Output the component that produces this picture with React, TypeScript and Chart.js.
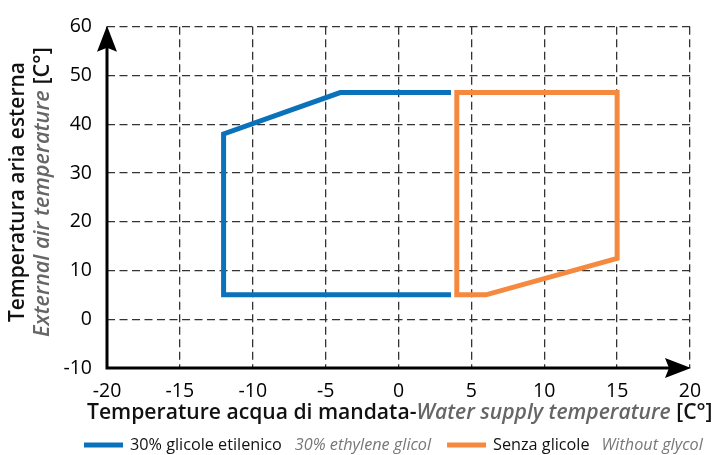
import React, { useEffect, useRef } from "react";
import { Chart, registerables } from "chart.js";
Chart.register(...registerables);

// ---- data ----
const xTickValues = [-20, -15, -10, -5, 0, 5, 10, 15, 20];
const yTickValues = [-10, 0, 10, 20, 30, 40, 50, 60];

const glycolX = [3.6, -4, -12, -12, 3.6];
const glycolY = [46.5, 46.5, 38, 5, 5];

const noGlycolX = [4, 15, 15, 6, 4, 4, 15];
const noGlycolY = [46.5, 46.5, 12.5, 5, 5, 46.5, 46.5];

const seriesNamesIt = ["30% glicole etilenico", "Senza glicole"];
const seriesNamesEn = ["30% ethylene glicol", "Without glycol"];
const seriesColors = ["#0a72ba", "#f5893f"];

const xTitleParts = ["Temperature acqua di mandata-", "Water supply temperature", " [C°]"];
const yTitleLine1 = "Temperatura aria esterna";
const yTitleLine2Parts = ["External air temperature", " [C°]"];

const FONT = "'Open Sans', sans-serif";

type Part = { text: string; italic?: boolean; weight?: number; color: string };

function fontOf(p: Part, size: number) {
  return `${p.italic ? "italic " : ""}${p.weight || 400} ${size}px ${FONT}`;
}
function measureParts(ctx: CanvasRenderingContext2D, parts: Part[], size: number) {
  let w = 0;
  for (const p of parts) {
    ctx.font = fontOf(p, size);
    w += ctx.measureText(p.text).width;
  }
  return w;
}
function drawParts(ctx: CanvasRenderingContext2D, parts: Part[], size: number, x: number, y: number) {
  let cx = x;
  ctx.textAlign = "left";
  ctx.textBaseline = "middle";
  for (const p of parts) {
    ctx.font = fontOf(p, size);
    ctx.fillStyle = p.color;
    ctx.fillText(p.text, cx, y);
    cx += ctx.measureText(p.text).width;
  }
  return cx;
}
function fitSize(ctx: CanvasRenderingContext2D, parts: Part[], target: number) {
  const w = measureParts(ctx, parts, 20);
  return (20 * target) / w;
}

const overlayPlugin = {
  id: "overlay",
  afterDraw(chart: any) {
    const ctx: CanvasRenderingContext2D = chart.ctx;
    const { left, right, top, bottom } = chart.chartArea;
    ctx.save();
    // axes
    ctx.strokeStyle = "#000";
    ctx.fillStyle = "#000";
    ctx.lineWidth = 3;
    ctx.beginPath();
    ctx.moveTo(left, bottom);
    ctx.lineTo(left, top + 10);
    ctx.moveTo(left - 1.5, bottom);
    ctx.lineTo(right - 10, bottom);
    ctx.stroke();
    // y arrow
    const tipY = top - 1;
    ctx.beginPath();
    ctx.moveTo(left, tipY);
    ctx.lineTo(left + 10, tipY + 26);
    ctx.lineTo(left, tipY + 22);
    ctx.lineTo(left - 10, tipY + 26);
    ctx.closePath();
    ctx.fill();
    // x arrow
    const tipX = right + 1;
    ctx.beginPath();
    ctx.moveTo(tipX, bottom);
    ctx.lineTo(tipX - 26, bottom - 10);
    ctx.lineTo(tipX - 22, bottom);
    ctx.lineTo(tipX - 26, bottom + 10);
    ctx.closePath();
    ctx.fill();

    // x title
    const xParts: Part[] = [
      { text: xTitleParts[0], weight: 600, color: "#111" },
      { text: xTitleParts[1], weight: 600, italic: true, color: "#666" },
      { text: xTitleParts[2], weight: 600, color: "#111" },
    ];
    const xs = fitSize(ctx, xParts, 626);
    drawParts(ctx, xParts, xs, 87, 413);

    // y title
    ctx.save();
    ctx.translate(18, 192);
    ctx.rotate(-Math.PI / 2);
    const l1: Part[] = [{ text: yTitleLine1, weight: 600, color: "#111" }];
    const s1 = fitSize(ctx, l1, 260);
    drawParts(ctx, l1, s1, -130, 0);
    ctx.restore();
    ctx.save();
    ctx.translate(43, 192);
    ctx.rotate(-Math.PI / 2);
    const l2: Part[] = [
      { text: yTitleLine2Parts[0], weight: 600, italic: true, color: "#666" },
      { text: yTitleLine2Parts[1], weight: 600, color: "#111" },
    ];
    const s2 = fitSize(ctx, l2, 290);
    drawParts(ctx, l2, s2, -145, 0);
    ctx.restore();

    // legend
    const ly = 445;
    const t1: Part[] = [{ text: seriesNamesIt[0], color: "#111" }];
    const ls = fitSize(ctx, t1, 152);
    let x = 84;
    for (let i = 0; i < seriesNamesIt.length; i++) {
      ctx.fillStyle = seriesColors[i];
      ctx.fillRect(x, ly - 2.5, 39, 5);
      x += 39 + 7;
      x = drawParts(ctx, [{ text: seriesNamesIt[i], color: "#111" }], ls, x, ly);
      x += i === 0 ? 13 : 12;
      x = drawParts(ctx, [{ text: seriesNamesEn[i], italic: true, color: "#777" }], ls, x, ly);
      x += 16;
    }
    ctx.restore();
  },
};

export default function App() {
  const ref = useRef<HTMLCanvasElement>(null);
  useEffect(() => {
    if (!ref.current) return;
    const mk = (xs: number[], ys: number[]) => xs.map((v, i) => ({ x: v, y: ys[i] }));
    const chart = new Chart(ref.current, {
      type: "scatter",
      data: {
        datasets: [
          {
            label: seriesNamesIt[0],
            data: mk(glycolX, glycolY),
            showLine: true,
            borderColor: seriesColors[0],
            backgroundColor: seriesColors[0],
            borderWidth: 5,
            pointRadius: 0,
            borderJoinStyle: "miter",
            borderCapStyle: "butt",
            fill: false,
          },
          {
            label: seriesNamesIt[1],
            data: mk(noGlycolX, noGlycolY),
            showLine: true,
            borderColor: seriesColors[1],
            backgroundColor: seriesColors[1],
            borderWidth: 5,
            pointRadius: 0,
            borderJoinStyle: "miter",
            borderCapStyle: "butt",
            fill: false,
          },
        ],
      },
      options: {
        animation: false,
        responsive: false,
        layout: { padding: { left: 0, right: 25, top: 21, bottom: 0 } },
        plugins: { legend: { display: false }, tooltip: { enabled: false } },
        scales: {
          x: {
            type: "linear",
            min: xTickValues[0],
            max: xTickValues[xTickValues.length - 1],
            afterBuildTicks: (s: any) => {
              s.ticks = xTickValues.map((v) => ({ value: v }));
            },
            afterFit: (s: any) => {
              s.height = 87;
            },
            grid: { color: "#333", lineWidth: 1.3, drawTicks: false },
            border: { display: false, dash: [8, 4.5] },
            ticks: { color: "#000", padding: 12, font: { family: FONT, size: 19.5 } },
          },
          y: {
            type: "linear",
            min: yTickValues[0],
            max: yTickValues[yTickValues.length - 1],
            afterBuildTicks: (s: any) => {
              s.ticks = yTickValues.map((v) => ({ value: v }));
            },
            afterFit: (s: any) => {
              s.width = 107;
            },
            grid: { color: "#333", lineWidth: 1.3, drawTicks: false },
            border: { display: false, dash: [8, 4.5] },
            ticks: { color: "#000", padding: 15, font: { family: FONT, size: 19.5 } },
          },
        },
      },
      plugins: [overlayPlugin],
    } as any);
    return () => chart.destroy();
  }, []);
  return (
    <div style={{ position: "fixed", left: 0, top: 0, width: 715, height: 455, background: "#fff" }}>
      <canvas ref={ref} width={715} height={455} style={{ width: 715, height: 455 }} />
    </div>
  );
}
